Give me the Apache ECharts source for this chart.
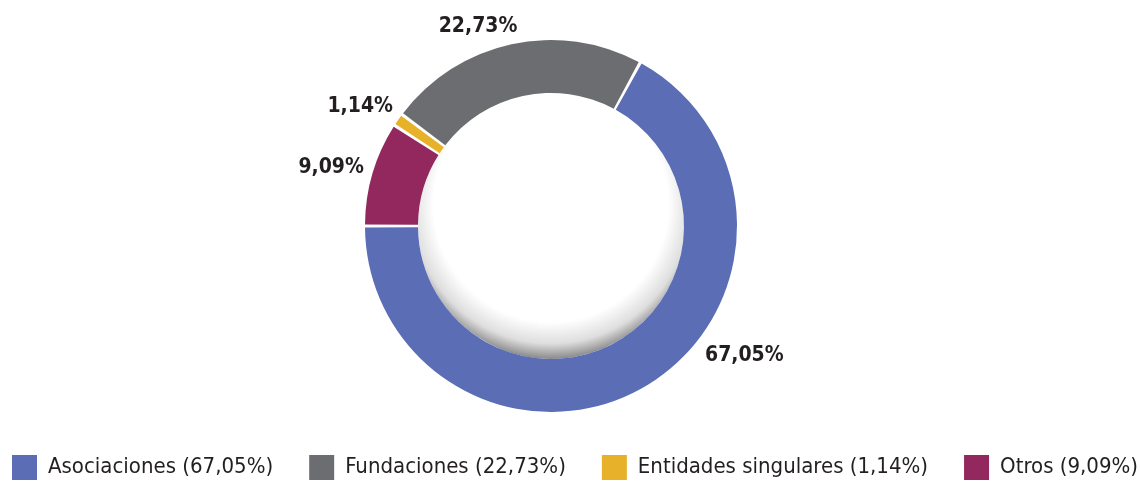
<!DOCTYPE html>
<html>
<head>
<meta charset="utf-8">
<script src="https://cdn.jsdelivr.net/npm/echarts@6/dist/echarts.min.js"></script>
<style>
  html, body { margin: 0; padding: 0; background: #fff; }
  #pieChart { width: 1140px; height: 482px; }
</style>
</head>
<body>
<div id="pieChart"></div>
<script>
// datos del gráfico
const categories = ['Asociaciones', 'Fundaciones', 'Entidades singulares', 'Otros'];
const values = [67.05, 22.73, 1.14, 9.09];
const colors = ['#5a6db5', '#6c6d70', '#e8b12a', '#93285e'];
// desplazamiento de cada etiqueta respecto a su posición por defecto
const labelOffsets = [[54, -39], [8, -8], [3, -8], [1, -3]];

const fontFamily = "'Liberation Sans Narrow', 'DejaVu Sans Condensed', 'Roboto', sans-serif";
const fmt = v => v.toFixed(2).replace('.', ',') + '%';

const myChart = echarts.init(document.getElementById('pieChart'));

let data = categories.map((name, i) => ({
    name: name,
    value: values[i],
    itemStyle: {color: colors[i]},
    label: {offset: labelOffsets[i]}
}));

let option = {
    animation: false,
    legend: {
        bottom: -3,
        left: 7,
        width: 1134,
        itemWidth: 25,
        itemHeight: 25,
        itemGap: 36,
        icon: 'rect',
        textStyle: {
            fontFamily: fontFamily,
            fontSize: 22,
            color: '#231f20',
            padding: [0, 0, 0, 6]
        },
        formatter: name => name + ' (' + fmt(values[categories.indexOf(name)]) + ')',
        data: categories
    },
    series: [
        {
            // sombra interior del hueco
            type: 'pie',
            silent: true,
            center: [551, 226],
            radius: [0, 133],
            z: 1,
            label: {show: false},
            labelLine: {show: false},
            itemStyle: {
                color: new echarts.graphic.RadialGradient(0.5, 0.42, 0.58, [
                    {offset: 0, color: '#ffffff'},
                    {offset: 0.76, color: '#ffffff'},
                    {offset: 0.9, color: '#dedede'},
                    {offset: 1, color: '#8a8a8a'}
                ])
            },
            data: [{value: 1, name: ''}]
        },
        {
            type: 'pie',
            center: [551, 226],
            radius: [133, 186],
            startAngle: 180,
            clockwise: false,
            padAngle: 1,
            avoidLabelOverlap: false,
            z: 2,
            emphasis: {disabled: true},
            label: {
                show: true,
                position: 'outside',
                fontFamily: fontFamily,
                fontWeight: 'bold',
                fontSize: 21,
                color: '#231f20',
                distanceToLabelLine: 0,
                formatter: p => fmt(p.value)
            },
            labelLine: {show: false, length: 10, length2: 0},
            data: data
        }
    ]
};
if (option && typeof option === "object") {
    myChart.setOption(option, true);
}
</script>
</body>
</html>
